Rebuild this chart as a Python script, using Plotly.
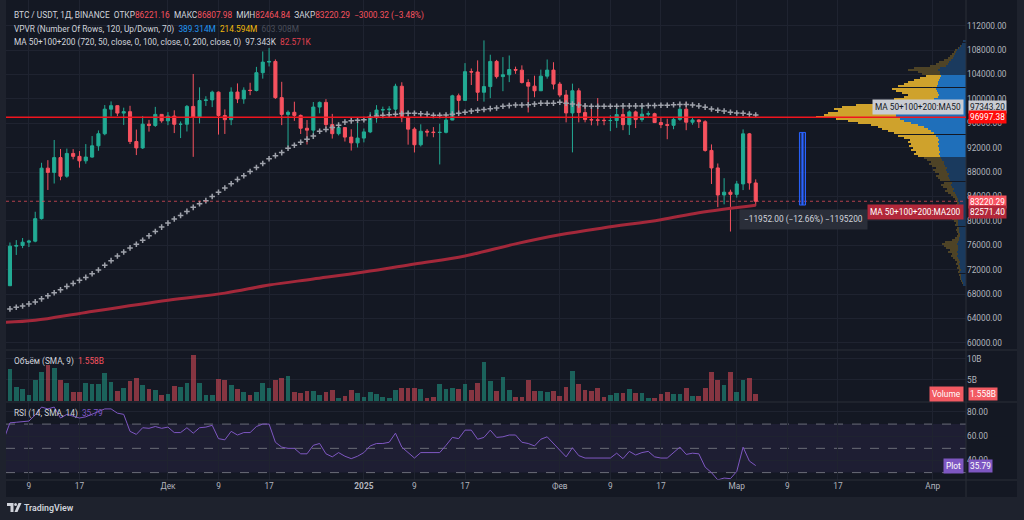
import pandas as pd
import plotly.graph_objects as go

# ---- daily candles, Nov 6 2024 .. Mar 4 2025 (BINANCE BTC/USDT) ----
dates = pd.date_range('2024-11-06', '2025-03-04', freq='D')

opens = [69374, 75857, 75970, 76510, 76677, 80370, 88647, 87952, 90375, 87325,
         91058, 90578, 89846, 90464, 92310, 94286, 98317, 98892, 97672, 97901,
         93010, 91965, 95863, 95643, 97460, 96407, 97185, 95840, 95850, 98768,
         96945, 99740, 99831, 101109, 97276, 96593, 101125, 100000, 101417, 101372,
         104298, 106030, 106140, 100205, 97461, 97805, 97291, 95186, 94881, 98663,
         99430, 95792, 94299, 95300, 93738, 92792, 93576, 94591, 96984, 98174,
         98236, 98314, 102078, 96922, 95043, 92484, 94701, 94566, 94488, 94516,
         96534, 100504, 99756, 104462, 104408, 101089, 102016, 106146, 103653, 103960,
         104819, 104714, 102682, 102087, 101332, 103733, 104722, 102429, 100635, 97700,
         101328, 97763, 96612, 96554, 96506, 96444, 96462, 97430, 95778, 97869,
         96608, 97500, 97570, 96118, 95780, 95671, 96644, 98305, 96181, 96551,
         96258, 91552, 88680, 84250, 84708, 84349, 86064, 94270, 86221.16]
highs = [76460, 76849, 77199, 76900, 81500, 89530, 89956, 93265, 91790, 91850,
         91763, 91450, 92594, 93906, 94831, 98988, 99588, 98899, 98564, 98871,
         94973, 97208, 96564, 98693, 97463, 97836, 98130, 96305, 99000, 104088,
         101898, 100439, 101350, 101215, 98270, 101895, 102540, 101895, 102650, 105250,
         107780, 108353, 106470, 102800, 98100, 99540, 97448, 96538, 99487, 99569,
         99963, 97544, 95500, 95340, 95024, 96250, 95149, 97839, 98976, 98734,
         98813, 102482, 102724, 97258, 95349, 95836, 95050, 95378, 95940, 97371,
         100681, 100873, 105865, 104988, 106314, 109588, 107240, 106394, 106850, 107120,
         105286, 105500, 103221, 103800, 104800, 106457, 106012, 102783, 101456, 102500,
         101745, 99149, 99120, 100137, 96880, 97323, 98345, 98478, 98119, 98090,
         98826, 97970, 97732, 97046, 96753, 96899, 98711, 99475, 96980, 96650,
         96500, 92540, 89414, 87000, 85120, 86558, 95000, 94416, 86807.98]
lows = [69322, 74416, 75530, 75714, 76490, 80216, 85072, 86127, 86668, 87073,
        90094, 88722, 89376, 90357, 91500, 94040, 97122, 97183, 95734, 92600,
        90791, 91792, 94640, 95407, 96092, 95693, 94395, 93578, 94660, 90500,
        95981, 98844, 98657, 94150, 94256, 95700, 99311, 99205, 100610, 101227,
        103322, 105321, 100000, 95700, 92175, 96398, 94250, 92520, 93410, 97632,
        95199, 93500, 94011, 93009, 91530, 92033, 92870, 94392, 96100, 97562,
        97274, 97926, 96181, 92500, 91220, 92206, 93831, 93712, 89256, 94346,
        96500, 97352, 99700, 102277, 99651, 99550, 100120, 103339, 101262, 102750,
        104106, 102520, 97777, 100272, 101328, 103319, 101560, 100279, 96150, 91231,
        96150, 96155, 95676, 95620, 95688, 94713, 95256, 94876, 94088, 95217,
        96252, 97111, 96046, 95205, 93388, 95029, 96415, 94871, 95770, 95227,
        91350, 86050, 82256, 82716, 78258, 83824, 85050, 85117, 82464.84]
closes = [75857, 75970, 76510, 76677, 80370, 88647, 87952, 90375, 87325, 91058,
          90578, 89846, 90464, 92310, 94286, 98317, 98892, 97672, 97901, 93010,
          91965, 95863, 95643, 97460, 96407, 97185, 95840, 95850, 98768, 96945,
          99740, 99831, 101109, 97276, 96593, 101125, 100000, 101417, 101372, 104298,
          106030, 106140, 100205, 97461, 97805, 97291, 95186, 94881, 98663, 99430,
          95792, 94299, 95300, 93738, 92792, 93576, 94591, 96984, 98174, 98236,
          98314, 102078, 96922, 95043, 92484, 94701, 94566, 94488, 94516, 96534,
          100504, 99756, 104462, 104408, 101089, 102016, 106146, 103653, 103960, 104819,
          104714, 102682, 102087, 101332, 103733, 104722, 102429, 100635, 97700, 101328,
          97763, 96612, 96554, 96506, 96444, 96462, 97430, 95778, 97869, 96608,
          97500, 97570, 96118, 95780, 95671, 96644, 98305, 96181, 96551, 96258,
          91552, 88680, 84250, 84708, 84349, 86064, 94270, 86221, 83220.29]

# volume, billions
volume_b = [7.6, 3.3, 2.9, 1.4, 5.0, 6.9, 8.5, 7.8, 5.0, 4.3,
            2.1, 2.1, 4.3, 4.1, 4.0, 6.7, 4.5, 2.4, 3.0, 4.8,
            5.4, 3.9, 2.8, 2.7, 1.4, 1.6, 3.6, 3.3, 4.3, 11.0,
            4.4, 1.5, 1.5, 5.2, 5.0, 3.7, 2.9, 2.1, 1.4, 2.2,
            4.4, 3.0, 5.1, 5.4, 5.9, 2.2, 1.8, 2.4, 2.4, 1.4,
            2.1, 2.6, 0.8, 1.3, 2.6, 1.8, 1.0, 2.1, 1.6, 0.9,
            0.8, 2.5, 3.2, 3.2, 3.2, 2.9, 0.8, 1.0, 4.0, 2.8,
            3.0, 2.8, 4.1, 2.5, 4.4, 9.4, 4.8, 2.4, 5.6, 2.5,
            1.0, 1.0, 5.1, 2.3, 2.4, 2.1, 2.4, 1.3, 3.4, 7.2,
            4.0, 2.6, 2.3, 3.1, 1.0, 1.4, 2.0, 1.8, 2.9, 1.9,
            1.8, 0.8, 0.8, 1.6, 2.2, 1.7, 1.7, 3.1, 1.1, 1.1,
            3.0, 7.0, 5.0, 3.7, 6.9, 2.2, 5.1, 5.4, 1.558]

# MA50 (daily)
ma50 = [65570, 65850, 66060, 66390, 66720, 67220, 67710, 68210, 68700, 69260,
        69750, 70250, 70740, 71340, 71950, 72720, 73480, 74250, 74910, 75570,
        76180, 76840, 77550, 78260, 78980, 79640, 80300, 80900, 81560, 82220,
        82830, 83320, 84000, 84700, 85400, 86100, 86800, 87400, 88100, 88750,
        89400, 90200, 90700, 91200, 91900, 92400, 92900, 93400, 93900, 94700,
        95000, 95300, 95700, 96200, 96400, 96500, 96600, 97000, 97200, 97300,
        97400, 97500, 97600, 97650, 97650, 97550, 97500, 97300, 97300, 97350,
        97500, 97650, 97800, 98000, 98150, 98250, 98400, 98500, 98800, 98900,
        99000, 99000, 99050, 99150, 99300, 99300, 99300, 99450, 99300, 99150,
        99000, 98850, 98800, 98800, 98800, 98800, 98800, 98850, 98850, 98850,
        98850, 98900, 98900, 98950, 98950, 99050, 99100, 99100, 99000, 98850,
        98650, 98350, 98150, 98000, 97800, 97700, 97650, 97500, 97343.2]

# MA200 (at a few dates)
ma200_dates = ['2024-11-05', '2024-11-10', '2024-11-18', '2024-12-01', '2024-12-10',
               '2024-12-17', '2024-12-24', '2025-01-01', '2025-01-09', '2025-01-17',
               '2025-01-25', '2025-02-01', '2025-02-08', '2025-02-17', '2025-02-23',
               '2025-03-04']
ma200 = [63350, 63700, 65000, 67000, 68160, 69480, 70470, 71620, 72940, 74260,
         76230, 77720, 78870, 80190, 81340, 82571.4]

# RSI(14), first value is Nov 5
rsi_dates = pd.date_range('2024-11-05', '2025-03-04', freq='D')
rsi = [57, 71, 71.5, 72, 72.5, 77.5, 84, 82.5, 84, 75,
       78, 76.5, 75, 76, 78, 80, 82.5, 82.5, 79, 78,
       64, 61.5, 67, 66.5, 68, 66.5, 67.5, 63, 63, 67,
       62.5, 67, 67.5, 69, 58, 57, 64, 61, 63, 63,
       68, 70, 70, 55, 51, 50, 50, 45.5, 45.5, 52.5,
       54, 45.5, 43, 46.5, 43.5, 41.5, 43.5, 46.5, 52, 54,
       54, 55, 62.5, 51, 46.5, 42, 46.5, 46.5, 46.5, 46.5,
       52.5, 59, 58, 65, 65, 57.5, 59, 65, 59, 59.5,
       61, 61, 55, 54, 52, 57.5, 59.5, 54, 48, 43,
       50.5, 44, 42, 42, 42, 42, 42, 46, 41.5, 47.5,
       44.5, 46.5, 47.5, 43, 42, 42, 46.5, 51, 45, 46,
       45.5, 34.5, 30, 24, 25.5, 25, 31, 51, 39.5, 35.79]

# VPVR: 120 rows over the visible range, bottom to top, millions
vp_low, vp_high = 69374, 109588
va_low, va_high = 90500, 104000
vp_up = [12, 12, 16, 20, 20, 20, 24, 20, 24, 24, 28, 24, 28, 32, 36, 32, 36, 32, 32, 32,
         36, 32, 28, 28, 24, 24, 28, 28, 28, 32, 32, 32, 36, 40, 36, 40, 40, 36, 32, 32,
         28, 32, 32, 36, 40, 44, 52, 48, 56, 60, 56, 64, 68, 72, 68, 76, 80, 76, 84, 88,
         88, 96, 100, 104, 108, 104, 108, 108, 112, 108, 112, 108, 112, 120, 128, 140, 152, 168, 192, 220,
         248, 264, 280, 280, 272, 264, 256, 240, 220, 180, 152, 128, 112, 108, 112, 116, 120, 116, 112, 112,
         108, 104, 100, 104, 104, 112, 104, 80, 72, 68, 60, 52, 48, 44, 40, 36, 28, 20, 16, 12]
vp_down = [0, 4, 4, 4, 4, 8, 8, 8, 12, 8, 12, 12, 16, 20, 24, 24, 36, 32, 48, 56,
           60, 52, 28, 16, 12, 8, 8, 12, 8, 12, 8, 16, 20, 28, 24, 32, 24, 16, 16, 8,
           8, 8, 12, 16, 20, 28, 32, 28, 36, 40, 32, 40, 44, 48, 40, 48, 52, 44, 52, 60,
           52, 60, 68, 88, 100, 96, 112, 104, 116, 112, 120, 116, 136, 152, 160, 172, 184, 184, 188, 212,
           224, 256, 320, 288, 280, 248, 272, 256, 220, 188, 168, 160, 136, 124, 144, 164, 176, 156, 136, 120,
           100, 80, 60, 72, 88, 120, 104, 64, 48, 40, 28, 20, 16, 12, 8, 8, 4, 4, 0, 0]

poc_price = 96997.38
last_price = 83220.29
measure_top, measure_bottom = 94500, 82600

time_ticks = ['2024-11-09', '2024-11-17', '2024-12-01', '2024-12-09', '2024-12-17',
              '2025-01-01', '2025-01-09', '2025-01-17', '2025-02-01', '2025-02-09',
              '2025-02-17', '2025-03-01', '2025-03-09', '2025-03-17', '2025-04-01']
time_labels = ['9', '17', 'Дек', '9', '17', '<b>2025</b>', '9', '17', 'Фев', '9',
               '17', 'Мар', '9', '17', 'Апр']
price_ticks = list(range(60000, 112001, 4000))

# ---- styling ----
BG = '#141823'
FRAME = '#1e222d'
GRID = '#1f2330'
SEP = '#2a2e39'
TXT = '#d1d4dc'
AX = '#b2b5be'
UP = '#22ab94'
DN = '#f7525f'
FONT = 'Roboto, Noto Sans, sans-serif'
FS = 8.3

W, H = 1024, 520
ML, MR, MT, MB = 6, 58, 0, 40
PW, PH = W - ML - MR, H - MT - MB


def px(x):
    return (x - ML) / PW


def py(y):
    return 1 - (y - MT) / PH


row = (vp_high - vp_low) / len(vp_up)
vp_prices = [vp_low + (i + 0.5) * row for i in range(len(vp_up))]
in_va = [va_low <= p <= va_high for p in vp_prices]

fig = go.Figure()

fig.add_trace(go.Candlestick(
    x=dates, open=opens, high=highs, low=lows, close=closes,
    increasing=dict(line=dict(color=UP, width=1), fillcolor=UP),
    decreasing=dict(line=dict(color=DN, width=1), fillcolor=DN),
    xaxis='x', yaxis='y', hoverinfo='skip'))

fig.add_trace(go.Scatter(
    x=ma200_dates, y=ma200, mode='lines', line=dict(color='#a3283a', width=3, shape='spline'),
    xaxis='x', yaxis='y', hoverinfo='skip'))

fig.add_trace(go.Scatter(
    x=dates, y=ma50, mode='markers',
    marker=dict(symbol='cross-thin', size=4, line=dict(width=1.5, color='#9fa2ab')),
    xaxis='x', yaxis='y', hoverinfo='skip'))

# volume profile (drawn from the right edge)
fig.add_trace(go.Bar(
    y=vp_prices, x=vp_up, orientation='h', width=row * 0.55,
    marker=dict(color=['#1f6fba' if v else '#1a3a5e' for v in in_va], line=dict(width=0)),
    xaxis='x2', yaxis='y', hoverinfo='skip'))
fig.add_trace(go.Bar(
    y=vp_prices, x=vp_down, orientation='h', width=row * 0.55,
    marker=dict(color=['#cfa22c' if v else '#4e4326' for v in in_va], line=dict(width=0)),
    xaxis='x2', yaxis='y', hoverinfo='skip'))

vol_colors = ['rgba(34,171,148,0.5)' if c >= o else 'rgba(247,82,95,0.5)'
              for o, c in zip(opens, closes)]
fig.add_trace(go.Bar(
    x=dates, y=[v * 1e9 for v in volume_b], marker=dict(color=vol_colors, line=dict(width=0)),
    xaxis='x', yaxis='y2', hoverinfo='skip'))

fig.add_trace(go.Scatter(
    x=rsi_dates, y=rsi, mode='lines', line=dict(color='#7e57c2', width=1),
    xaxis='x', yaxis='y3', hoverinfo='skip'))

axis_font = dict(family=FONT, size=FS, color=AX)
x_range = ['2024-11-05 09:00', '2025-04-06 06:30']

shapes = [
    dict(type='rect', xref='paper', yref='paper', x0=0, x1=px(1017), y0=py(497), y1=1,
         fillcolor=BG, line=dict(width=0), layer='below'),
    dict(type='rect', xref='paper', yref='y3', x0=0, x1=1, y0=30, y1=70,
         fillcolor='rgba(126,87,194,0.1)', line=dict(width=0), layer='below'),
]
for lvl in (70, 50, 30):
    shapes.append(dict(type='line', xref='paper', yref='y3', x0=0, x1=1, y0=lvl, y1=lvl,
                       line=dict(color='#6a6d78', width=1, dash='dash'), layer='below'))
for yy in (350, 402, 480):
    shapes.append(dict(type='line', xref='paper', yref='paper', x0=0, x1=px(1017),
                       y0=py(yy), y1=py(yy), line=dict(color=SEP, width=1)))
shapes.append(dict(type='line', xref='paper', yref='paper', x0=1, x1=1, y0=py(497), y1=1,
                   line=dict(color=SEP, width=1)))
shapes += [
    dict(type='line', xref='paper', yref='y', x0=0, x1=1, y0=poc_price, y1=poc_price,
         line=dict(color='#f0141e', width=1.6), layer='above'),
    dict(type='line', xref='paper', yref='y', x0=0, x1=1, y0=last_price, y1=last_price,
         line=dict(color='rgba(247,82,95,0.7)', width=1, dash='dot'), layer='above'),
    dict(type='rect', xref='x', yref='y', x0='2025-03-10 22:00', x1='2025-03-11 21:00',
         y0=measure_bottom, y1=measure_top, fillcolor='rgba(41,98,255,0.25)',
         line=dict(color='#2962ff', width=1)),
    dict(type='line', xref='x', yref='y', x0='2025-03-11 09:30', x1='2025-03-11 09:30',
         y0=measure_bottom, y1=measure_top, line=dict(color='#2962ff', width=2)),
    # TradingView logo
    dict(type='path', xref='paper', yref='paper',
         path=f'M {px(7)} {py(503)} L {px(13.5)} {py(503)} L {px(13.5)} {py(512)} '
              f'L {px(10.5)} {py(512)} L {px(10.5)} {py(506)} L {px(7)} {py(506)} Z',
         fillcolor=TXT, line=dict(width=0)),
    dict(type='circle', xref='paper', yref='paper', x0=px(14.2), x1=px(17), y0=py(506), y1=py(503),
         fillcolor=TXT, line=dict(width=0)),
    dict(type='path', xref='paper', yref='paper',
         path=f'M {px(18.5)} {py(503)} L {px(21.5)} {py(503)} L {px(17.5)} {py(512)} '
              f'L {px(14.5)} {py(512)} Z',
         fillcolor=TXT, line=dict(width=0)),
]

ann = []
nb = '\u00a0'


def span(t, c):
    return f'<span style="color:{c}">{t}</span>'


def note(text, x, y, xanchor='left', size=FS, color=TXT, bg=None, pad=1, weight=None):
    f = dict(family=FONT, size=size, color=color)
    if weight:
        f['weight'] = weight
    d = dict(text=text, x=px(x), y=py(y), xref='paper', yref='paper', showarrow=False,
             xanchor=xanchor, yanchor='middle', font=f)
    if bg:
        d.update(bgcolor=bg, borderpad=pad)
    ann.append(d)


# pane legends
gap = nb * 2
note('BTC / USDT, 1Д, BINANCE' + gap + 'ОТКР' + span('86221.16', DN) + gap + 'МАКС' +
     span('86807.98', DN) + gap + 'МИН' + span('82464.84', DN) + gap + 'ЗАКР' +
     span('83220.29', DN) + gap + span('−3000.32 (−3.48%)', DN), 12, 15)
note('VPVR (Number Of Rows, 120, Up/Down, 70)' + gap + span('389.314M', '#2196f3') + gap +
     span('214.594M', '#f0b90b') + gap + span('603.908M', '#4a4e5a'), 12, 29)
note('MA 50+100+200 (720, 50, close, 0, 100, close, 0, 200, close, 0)' + gap + '97.343K' +
     gap + span('82.571K', '#e0414f'), 12, 42)
note('Объём (SMA, 9)' + gap + span('1.558B', DN), 12, 361)
note('RSI (14, SMA, 14)' + gap + span('35.79', '#7e57c2'), 12, 413)
note('TradingView', 22, 508, size=8.8, weight=600)
note('−11952.00 (−12.66%) −1195200', 803, 220, xanchor='center', bg='#2a2e39', pad=4)

# price-axis labels
note('MA 50+100+200:MA50', 964, 107, xanchor='right', color='#131722', bg='#c9ccd3', pad=2)
note('97343.20', 968, 107, color='#131722', bg='#c9ccd3')
note('96997.38', 968, 117.5, color='#ffffff', bg='#ff0a0a')
note('83220.29', 968, 201.5, color='#ffffff', bg='#f7525f')
note('MA 50+100+200:MA200', 964, 212, xanchor='right', color='#ffffff', bg='#b2283a', pad=2)
note('82571.40', 968, 212, color='#ffffff', bg='#b2283a')
note('Volume', 964, 394, xanchor='right', color='#ffffff', bg='#f25a62', pad=2)
note('1.558B', 968, 394, color='#ffffff', bg='#f25a62')
note('Plot', 964, 466, xanchor='right', color='#ffffff', bg='#7e57c2', pad=2)
note('35.79', 968, 466, color='#ffffff', bg='#7e57c2')

fig.update_layout(
    width=W, height=H, margin=dict(l=ML, r=MR, t=MT, b=MB),
    paper_bgcolor=FRAME, plot_bgcolor='rgba(0,0,0,0)',
    showlegend=False, hovermode=False, barmode='stack', bargap=0.25,
    font=dict(family=FONT, size=FS, color=AX),
    xaxis=dict(type='date', range=x_range, domain=[0, 1], anchor='y3',
               tickvals=time_ticks, ticktext=time_labels, tickfont=axis_font,
               showgrid=True, gridcolor=GRID, zeroline=False, showline=False, ticks='',
               rangeslider=dict(visible=False)),
    xaxis2=dict(overlaying='x', range=[PW * 4, 0], visible=False, showgrid=False),
    yaxis=dict(domain=[py(350), 1], range=[58836, 116213], side='right', anchor='x',
               tickvals=price_ticks, ticktext=[f'{v}.00' for v in price_ticks],
               tickfont=axis_font, gridcolor=GRID, zeroline=False, ticks=''),
    yaxis2=dict(domain=[py(402), py(350)], range=[-0.24e9, 12.14e9], side='right', anchor='x',
                tickvals=[5e9, 10e9], ticktext=['5B', '10B'], tickfont=axis_font,
                gridcolor=GRID, zeroline=False, ticks=''),
    yaxis3=dict(domain=[0, py(402)], range=[23.9, 88.2], side='right', anchor='x',
                tickvals=[40, 60, 80], ticktext=['40.00', '60.00', '80.00'], tickfont=axis_font,
                gridcolor=GRID, zeroline=False, ticks=''),
    shapes=shapes, annotations=ann,
)

# the page body has a default 8px margin; drop it so the figure fills the window
fig.write_html('out.html', config={'displayModeBar': False},
               post_script="document.body.style.margin='0';")
